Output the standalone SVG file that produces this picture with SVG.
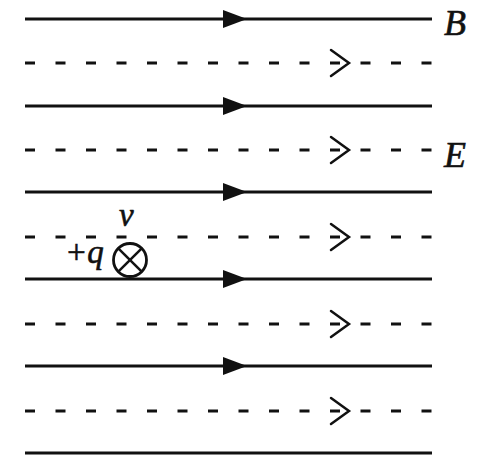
<svg xmlns="http://www.w3.org/2000/svg" width="485" height="463" viewBox="0 0 485 463">
<style>
.s{stroke:#111;stroke-width:3;fill:none}
.d{stroke:#111;stroke-width:3;fill:none;stroke-dasharray:10 20.5}
.ch{stroke:#111;stroke-width:2.5;fill:none;stroke-linecap:round;stroke-linejoin:miter}
.t{font-family:"Liberation Serif","Times New Roman",serif;font-style:italic;fill:#111;stroke:#111;stroke-width:0.6}
</style>
<defs>
<path id="fa" d="M223,-9 L247,0 L223,9 Z" fill="#111"/>
<path id="oa" d="M331,-13 L349,0 L331,13" class="ch"/>
</defs>
<rect width="485" height="463" fill="#fff"/>
<g id="B-field">
<g transform="translate(0,19)"><line class="s" x1="25" y1="0" x2="432" y2="0"/><use href="#fa"/></g>
<g transform="translate(0,106)"><line class="s" x1="25" y1="0" x2="432" y2="0"/><use href="#fa"/></g>
<g transform="translate(0,192)"><line class="s" x1="25" y1="0" x2="432" y2="0"/><use href="#fa"/></g>
<g transform="translate(0,279)"><line class="s" x1="25" y1="0" x2="432" y2="0"/><use href="#fa"/></g>
<g transform="translate(0,366)"><line class="s" x1="25" y1="0" x2="432" y2="0"/><use href="#fa"/></g>
<g transform="translate(0,453)"><line class="s" x1="25" y1="0" x2="432" y2="0"/></g>
</g>
<g id="E-field">
<g transform="translate(0,63)"><line class="d" x1="25" y1="0" x2="433" y2="0"/><use href="#oa"/></g>
<g transform="translate(0,150)"><line class="d" x1="25" y1="0" x2="433" y2="0"/><use href="#oa"/></g>
<g transform="translate(0,237)"><line class="d" x1="25" y1="0" x2="433" y2="0"/><use href="#oa"/></g>
<g transform="translate(0,324)"><line class="d" x1="25" y1="0" x2="433" y2="0"/><use href="#oa"/></g>
<g transform="translate(0,411)"><line class="d" x1="25" y1="0" x2="433" y2="0"/><use href="#oa"/></g>
</g>
<g id="labels">
<text class="t" x="444" y="35" font-size="36">B</text>
<text class="t" x="444" y="167" font-size="36">E</text>
</g>
<g id="particle">
<circle cx="130" cy="260" r="16.5" fill="#fff" stroke="#111" stroke-width="2.8"/>
<line x1="118.3" y1="248.3" x2="141.7" y2="271.7" stroke="#111" stroke-width="2.5"/>
<line x1="141.7" y1="248.3" x2="118.3" y2="271.7" stroke="#111" stroke-width="2.5"/>
<text class="t" x="119" y="226" font-size="33">v</text>
<text class="t" x="65" y="263" font-size="33">+q</text>
</g>
</svg>
